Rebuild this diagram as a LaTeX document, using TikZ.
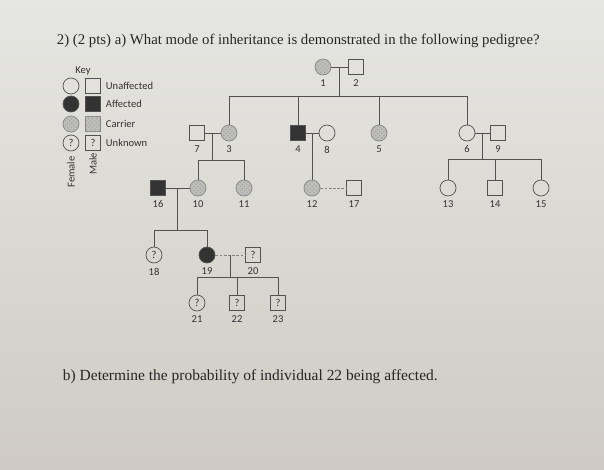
\documentclass[tikz,border=0pt]{standalone}
\usepackage{fontspec}
\setmainfont{Liberation Serif}
\newfontfamily\keyfont{Carlito}
\usetikzlibrary{calc,positioning,patterns}
\definecolor{PaperHi}{HTML}{E6E6E2}
\definecolor{PaperLo}{HTML}{CFCBC4}
\definecolor{Ink}{HTML}{333333}
\definecolor{Stipple}{HTML}{BDBDBA}
\tikzset{
    every node/.style={font=\keyfont\fontsize{7.5}{9}\selectfont, text=Ink},
    pedline/.style={draw=Ink!85, line width=0.5pt},
    fem/.style={
        circle, draw=Ink!85, line width=0.5pt,
        minimum size=0.4cm, inner sep=0pt
    },
    mal/.style={
        rectangle, draw=Ink!85, line width=0.5pt,
        minimum size=0.37cm, inner sep=0pt
    },
    affected/.style={fill=Ink},
    carrier/.style={
        fill=Stipple, draw=Ink!60,
        postaction={pattern=crosshatch dots, pattern color=Ink!45}
    },
    faintline/.style={pedline, draw=Ink!60, dash pattern=on 2pt off 1pt},
    numlab/.style={inner sep=1pt},
    every label/.style={numlab},
    label distance=2pt,
    question/.style={font=\rmfamily\fontsize{10.5}{12}\selectfont, text=black!85}
}
\begin{document}
\begin{tikzpicture}[x=0.025cm, y=-0.025cm]
    % paper
    \shade[top color=PaperHi, bottom color=PaperLo] (0,0) rectangle (604,469);
    \useasboundingbox (0,0) rectangle (604,469);

    % questions
    \node[question, anchor=west] (qa) at (52,41)
        {2) (2 pts) a) What mode of inheritance is demonstrated in the following pedigree?};
    \node[question, anchor=west, font=\rmfamily\fontsize{11}{13}\selectfont] (qb) at (58,377)
        {b) Determine the probability of individual 22 being affected.};

    % Key
    \node (keyhead) at (83,71) {Key};
    \node[fem] (kf1) at (71,86) {};
    \node[mal] (km1) at (93,86) {};
    \node[anchor=west] (kt1) at (101,86) {Unaffected};
    \node[fem, affected] (kf2) at (71,104) {};
    \node[mal, affected] (km2) at (93,104) {};
    \node[anchor=west] (kt2) at (101,104) {Affected};
    \node[fem, carrier] (kf3) at (71,124) {};
    \node[mal, carrier] (km3) at (93,124) {};
    \node[anchor=west] (kt3) at (101,124) {Carrier};
    \node[fem] (kf4) at (71,143) {?};
    \node[mal] (km4) at (93,143) {?};
    \node[anchor=west] (kt4) at (101,143) {Unknown};
    \node[rotate=90] (kfem) at (71,172) {Female};
    \node[rotate=90] (kmal) at (93,164) {Male};

    % Generation I
    \node[fem, carrier, label=below:1] (n1) at (323,67) {};
    \node[mal, label=below:2] (n2) at (356,67) {};

    % Generation II
    \node[mal, label=below:7] (n7) at (197,133) {};
    \node[fem, carrier, label=below:3] (n3) at (229,133) {};
    \node[mal, affected, label=below:4] (n4) at (298,133) {};
    \node[fem, label=below:8] (n8) at (327,133) {};
    \node[fem, carrier, label=below:5] (n5) at (379,133) {};
    \node[fem, label=below:6] (n6) at (467,133) {};
    \node[mal, label=below:9] (n9) at (498,133) {};

    % Generation III
    \node[mal, affected, label=below:16] (n16) at (158,188) {};
    \node[fem, carrier, label=below:10] (n10) at (198,188) {};
    \node[fem, carrier, label=below:11] (n11) at (244,188) {};
    \node[fem, carrier, label=below:12] (n12) at (312,188) {};
    \node[mal, label=below:17] (n17) at (354,188) {};
    \node[fem, label=below:13] (n13) at (448,188) {};
    \node[mal, label=below:14] (n14) at (495,188) {};
    \node[fem, label=below:15] (n15) at (541,188) {};

    % Generation IV
    \node[fem, label=below:18] (n18) at (154,255) {?};
    \node[fem, affected, label=below:19] (n19) at (207,255) {};
    \node[mal, label=below:20] (n20) at (253,255) {?};

    % Generation V
    \node[fem, label=below:21] (n21) at (197,303) {?};
    \node[mal, label=below:22] (n22) at (237,303) {?};
    \node[mal, label=below:23] (n23) at (278,303) {?};

    % matings
    \draw[pedline] (n1.east) -- (n2.west);
    \draw[pedline] (n7.east) -- (n3.west);
    \draw[pedline] (n4.east) -- (n8.west);
    \draw[pedline] (n6.east) -- (n9.west);
    \draw[pedline] (n16.east) -- (n10.west);
    \draw[faintline] (n12.east) -- (n17.west);
    \draw[faintline] (n19.east) -- (n20.west);

    % sibship of 1 x 2
    \coordinate (m12) at ($(n1.east)!0.5!(n2.west)$);
    \coordinate (s12) at (m12 |- 0,96);
    \draw[pedline] (m12) -- (s12);
    \draw[pedline] (n3.north) -- (n3 |- s12) -- (n6 |- s12) -- (n6.north);
    \draw[pedline] (n4.north) -- (n4 |- s12);
    \draw[pedline] (n5.north) -- (n5 |- s12);

    % sibship of 7 x 3
    \coordinate (m73) at ($(n7.east)!0.5!(n3.west)$);
    \coordinate (s73) at (m73 |- 0,160);
    \draw[pedline] (m73) -- (s73);
    \draw[pedline] (n10.north) -- (n10 |- s73) -- (n11 |- s73) -- (n11.north);

    % only child of 4 x 8
    \coordinate (m48) at ($(n4.east)!0.5!(n8.west)$);
    \draw[pedline] (m48) -- (m48 |- n12.north);

    % sibship of 6 x 9
    \coordinate (m69) at ($(n6.east)!0.5!(n9.west)$);
    \coordinate (s69) at (m69 |- 0,159);
    \draw[pedline] (m69) -- (s69);
    \draw[pedline] (n13.north) -- (n13 |- s69) -- (n15 |- s69) -- (n15.north);
    \draw[pedline] (n14.north) -- (n14 |- s69);

    % sibship of 16 x 10
    \coordinate (m1610) at ($(n16.east)!0.5!(n10.west)$);
    \coordinate (s1610) at (m1610 |- 0,230);
    \draw[pedline] (m1610) -- (s1610);
    \draw[pedline] (n18.north) -- (n18 |- s1610) -- (n19 |- s1610) -- (n19.north);

    % sibship of 19 x 20
    \coordinate (m1920) at ($(n19.east)!0.5!(n20.west)$);
    \coordinate (s1920) at (m1920 |- 0,277);
    \draw[pedline] (m1920) -- (s1920);
    \draw[pedline] (n21.north) -- (n21 |- s1920) -- (n23 |- s1920) -- (n23.north);
    \draw[pedline] (n22.north) -- (n22 |- s1920);
\end{tikzpicture}
\end{document}
